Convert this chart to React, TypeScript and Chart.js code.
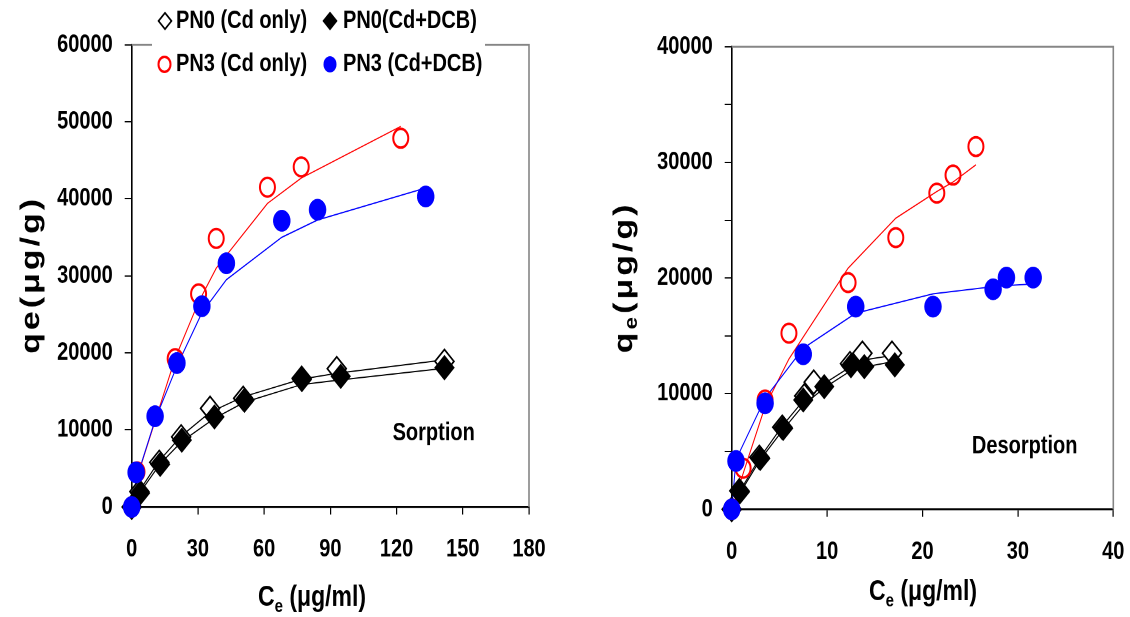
import React, { useEffect, useRef } from 'react';
import { Chart, registerables } from 'chart.js';

Chart.register(...registerables);

// ---------- shared layout ----------
const CANVAS_W = 565;
const CANVAS_H = 494; // logical height; stretched to 617 on screen
const SCREEN_H = 617;
const FONT = '"Liberation Sans", Arial, sans-serif';

// ---------- Sorption (left) ----------
const sorptionXTicks = [0, 30, 60, 90, 120, 150, 180];
const sorptionYTicks = [0, 10000, 20000, 30000, 40000, 50000, 60000];

const sorpPN0CdX = [0, 3.5, 12.5, 22.4, 35.5, 50.5, 77, 92.9, 141.7];
const sorpPN0CdY = [0, 2000, 5800, 9100, 12800, 14100, 16700, 17950, 18900];
const sorpPN0CdFit = [0, 2100, 6000, 9200, 12300, 14300, 16600, 17350, 19100];

const sorpPN0DcbX = [0, 3.8, 12.9, 22.7, 37.5, 51.1, 77.1, 94.7, 141.7];
const sorpPN0DcbY = [0, 1800, 5530, 8670, 11690, 13850, 16530, 16960, 18080];
const sorpPN0DcbFit = [0, 1900, 5600, 8500, 11500, 13600, 15900, 16500, 18000];

const sorpPN3CdX = [0, 2.4, 19.7, 30.3, 38.3, 61.5, 76.8, 121.9];
const sorpPN3CdY = [0, 4570, 19250, 27660, 34860, 41510, 44140, 47860];
const sorpPN3CdFit = [0, 3800, 19300, 26600, 31000, 39400, 42700, 49400];

const sorpPN3DcbX = [0, 2.0, 10.6, 20.5, 31.8, 42.9, 68.0, 84.2, 133.2];
const sorpPN3DcbY = [0, 4490, 11780, 18680, 26060, 31630, 37150, 38580, 40300];
const sorpPN3DcbFit = [0, 3500, 11300, 18300, 25200, 29500, 35000, 37250, 41400];

// ---------- Desorption (right) ----------
const desorptionXTicks = [0, 10, 20, 30, 40];
const desorptionYTicks = [0, 5000, 10000, 15000, 20000, 25000, 30000, 35000, 40000];
const desorptionYLabelled = [0, 10000, 20000, 30000, 40000];

const desPN0CdX = [0, 0.8, 2.9, 5.3, 7.6, 8.6, 12.4, 13.7, 16.8];
const desPN0CdY = [0, 1600, 4500, 7100, 9800, 11000, 12600, 13500, 13500];
const desPN0CdFit = [0, 1500, 4400, 7200, 9500, 10300, 12300, 12900, 13300];

const desPN0DcbX = [0, 0.87, 3.0, 5.4, 7.5, 9.7, 12.5, 13.9, 17.1];
const desPN0DcbY = [0, 1520, 4410, 7010, 9460, 10610, 12420, 12340, 12490];
const desPN0DcbFit = [0, 1400, 4300, 6900, 9000, 10500, 12000, 12300, 12800];

const desPN3CdX = [0, 1.2, 3.5, 6.0, 12.2, 17.2, 21.5, 23.2, 25.6];
const desPN3CdY = [0, 3550, 9460, 15230, 19610, 23500, 27340, 28900, 31370];
const desPN3CdFit = [0, 3100, 8900, 13000, 20850, 25180, 27480, 28300, 29790];

const desPN3DcbX = [0, 0.45, 3.5, 7.5, 13.0, 21.1, 27.4, 28.8, 31.6];
const desPN3DcbY = [0, 4180, 9170, 13410, 17530, 17530, 19030, 20040, 20040];
const desPN3DcbFit = [0, 4300, 9600, 13930, 16960, 18630, 19260, 19350, 19490];

const legendLabels = ['PN0 (Cd only)', 'PN0(Cd+DCB)', 'PN3 (Cd only)', 'PN3 (Cd+DCB)'];

// ---------- helpers ----------
const zip = (xs: number[], ys: number[]) => xs.map((x, i) => ({ x, y: ys[i] }));

function buildDatasets(
  pn0CdX: number[], pn0CdY: number[], pn0CdFit: number[],
  pn0DcbX: number[], pn0DcbY: number[], pn0DcbFit: number[],
  pn3CdX: number[], pn3CdY: number[], pn3CdFit: number[],
  pn3DcbX: number[], pn3DcbY: number[], pn3DcbFit: number[],
) {
  const base = { clip: false as any };
  return [
    { ...base, label: legendLabels[3], data: zip(pn3DcbX, pn3DcbY), showLine: false, pointStyle: 'circle', pointRadius: 8.5, pointBackgroundColor: '#0000FF', pointBorderColor: '#0000FF', pointBorderWidth: 0.5, order: 0 },
    { ...base, label: legendLabels[2], data: zip(pn3CdX, pn3CdY), showLine: false, pointStyle: 'circle', pointRadius: 7.5, pointBackgroundColor: 'rgba(0,0,0,0)', pointBorderColor: '#FF0000', pointBorderWidth: 2, order: 1 },
    { ...base, label: legendLabels[1], data: zip(pn0DcbX, pn0DcbY), showLine: false, pointStyle: 'rectRot', pointRadius: 9.5, pointBackgroundColor: '#000000', pointBorderColor: '#000000', pointBorderWidth: 1, order: 2 },
    { ...base, label: legendLabels[0], data: zip(pn0CdX, pn0CdY), showLine: false, pointStyle: 'rectRot', pointRadius: 9.5, pointBackgroundColor: '#FFFFFF', pointBorderColor: '#000000', pointBorderWidth: 1.5, order: 3 },
    { ...base, label: 'fit PN3 DCB', data: zip(pn3DcbX, pn3DcbFit), showLine: true, pointRadius: 0, borderColor: '#0000FF', borderWidth: 1, order: 4 },
    { ...base, label: 'fit PN3 Cd', data: zip(pn3CdX, pn3CdFit), showLine: true, pointRadius: 0, borderColor: '#FF0000', borderWidth: 1, order: 5 },
    { ...base, label: 'fit PN0 DCB', data: zip(pn0DcbX, pn0DcbFit), showLine: true, pointRadius: 0, borderColor: '#000000', borderWidth: 1, order: 6 },
    { ...base, label: 'fit PN0 Cd', data: zip(pn0CdX, pn0CdFit), showLine: true, pointRadius: 0, borderColor: '#000000', borderWidth: 1, order: 7 },
  ];
}

type Part = [string, number, number];
function drawParts(ctx: CanvasRenderingContext2D, parts: Part[], cx: number, cy: number, spacing = 0) {
  const widths = parts.map((p) => {
    ctx.font = `bold ${p[1]}px ${FONT}`;
    return ctx.measureText(p[0]).width + spacing * p[0].length;
  });
  const total = widths.reduce((a, b) => a + b, 0);
  let x = cx - total / 2;
  ctx.textAlign = 'left';
  parts.forEach((p, i) => {
    ctx.font = `bold ${p[1]}px ${FONT}`;
    if (spacing) {
      for (const ch of p[0]) {
        ctx.fillText(ch, x, cy + p[2]);
        x += ctx.measureText(ch).width + spacing;
      }
    } else {
      ctx.fillText(p[0], x, cy + p[2]);
      x += widths[i];
    }
  });
}

function diamond(ctx: CanvasRenderingContext2D, x: number, y: number, r: number, fill: string) {
  ctx.beginPath();
  ctx.moveTo(x, y - r);
  ctx.lineTo(x + r, y);
  ctx.lineTo(x, y + r);
  ctx.lineTo(x - r, y);
  ctx.closePath();
  ctx.fillStyle = fill;
  ctx.fill();
  ctx.lineWidth = 1.5;
  ctx.strokeStyle = '#000';
  ctx.stroke();
}

interface Deco {
  yTitle: Part[];
  yTitleX: number;
  yTitleY: number;
  yTitleSpacing: number;
  xTitle: Part[];
  xTitleX: number;
  xTitleY: number;
  note: string;
  noteX: number;
  noteY: number;
  legend: boolean;
}

function decoPlugin(d: Deco) {
  return {
    id: 'deco',
    beforeDatasetsDraw(chart: any) {
      const { ctx, chartArea: a } = chart;
      ctx.save();
      ctx.strokeStyle = '#858585';
      ctx.lineWidth = 1.6;
      ctx.beginPath();
      ctx.moveTo(a.left, a.top);
      ctx.lineTo(a.right, a.top);
      ctx.lineTo(a.right, a.bottom);
      ctx.stroke();
      ctx.restore();
    },
    afterDraw(chart: any) {
      const ctx: CanvasRenderingContext2D = chart.ctx;
      ctx.save();
      ctx.fillStyle = '#000';
      ctx.textBaseline = 'alphabetic';
      // x title
      drawParts(ctx, d.xTitle, d.xTitleX, d.xTitleY);
      // y title (rotated)
      ctx.save();
      ctx.translate(d.yTitleX, d.yTitleY);
      ctx.rotate(-Math.PI / 2);
      ctx.fillStyle = '#000';
      drawParts(ctx, d.yTitle, 0, 0, d.yTitleSpacing);
      ctx.restore();
      // note
      ctx.font = `bold 20px ${FONT}`;
      ctx.textAlign = 'center';
      ctx.textBaseline = 'middle';
      ctx.fillStyle = '#000';
      ctx.fillText(d.note, d.noteX, d.noteY);
      // legend
      if (d.legend) {
        ctx.fillStyle = '#FFFFFF';
        ctx.fillRect(152, 0, 333, 72);
        const r1 = 16.8;
        const r2 = 51.5;
        diamond(ctx, 165, r1, 6.5, '#FFFFFF');
        diamond(ctx, 330, r1, 6.5, '#000000');
        ctx.beginPath();
        ctx.arc(164.5, r2, 6, 0, Math.PI * 2);
        ctx.lineWidth = 2;
        ctx.strokeStyle = '#FF0000';
        ctx.stroke();
        ctx.beginPath();
        ctx.arc(330, r2, 6.5, 0, Math.PI * 2);
        ctx.fillStyle = '#0000FF';
        ctx.fill();
        ctx.fillStyle = '#000';
        ctx.font = `bold 20px ${FONT}`;
        ctx.textAlign = 'left';
        ctx.textBaseline = 'middle';
        ctx.fillText(legendLabels[0], 176, r1);
        ctx.fillText(legendLabels[1], 343, r1);
        ctx.fillText(legendLabels[2], 176, r2);
        ctx.fillText(legendLabels[3], 343, r2);
      }
      ctx.restore();
    },
  };
}

function makeScales(opts: {
  xMin: number; xMax: number; xTicks: number[];
  yMin: number; yMax: number; yTicks: number[]; yLabelled: number[];
  yWidth: number; xHeight: number;
}) {
  const tickFont = { family: FONT, size: 20, weight: 'bold' as any };
  return {
    x: {
      type: 'linear' as const,
      min: opts.xMin,
      max: opts.xMax,
      afterBuildTicks: (s: any) => { s.ticks = opts.xTicks.map((v) => ({ value: v })); },
      afterFit: (s: any) => { s.height = opts.xHeight; s.paddingLeft = 0; s.paddingRight = 0; },
      grid: { drawOnChartArea: false, drawTicks: true, tickLength: 6, color: '#000', lineWidth: 1.2 },
      border: { display: true, color: '#000', width: 1.6 },
      ticks: { font: tickFont, color: '#000', padding: 16, maxRotation: 0, autoSkip: false, callback: (v: any) => String(v) },
    },
    y: {
      type: 'linear' as const,
      min: opts.yMin,
      max: opts.yMax,
      afterBuildTicks: (s: any) => { s.ticks = opts.yTicks.map((v) => ({ value: v })); },
      afterFit: (s: any) => { s.width = opts.yWidth; s.paddingTop = 0; s.paddingBottom = 0; },
      grid: { drawOnChartArea: false, drawTicks: true, tickLength: 7, color: '#000', lineWidth: 1 },
      border: { display: true, color: '#000', width: 1.6 },
      ticks: {
        font: tickFont, color: '#000', padding: 12, autoSkip: false,
        callback: (v: any) => (opts.yLabelled.includes(Number(v)) ? String(v) : ''),
      },
    },
  };
}

function ChartPanel(props: { left: number; config: any }) {
  const ref = useRef<HTMLCanvasElement | null>(null);
  useEffect(() => {
    if (!ref.current) return;
    const chart = new Chart(ref.current, props.config);
    return () => chart.destroy();
  }, []);
  return (
    <canvas
      ref={ref}
      width={CANVAS_W}
      height={CANVAS_H}
      style={{ position: 'absolute', left: props.left, top: 0, width: `${CANVAS_W}px`, height: `${SCREEN_H}px` }}
    />
  );
}

const common = {
  animation: false as const,
  responsive: false,
  devicePixelRatio: 2,
  plugins: { legend: { display: false }, tooltip: { enabled: false } },
};

const sorptionConfig = {
  type: 'scatter',
  data: {
    datasets: buildDatasets(
      sorpPN0CdX, sorpPN0CdY, sorpPN0CdFit,
      sorpPN0DcbX, sorpPN0DcbY, sorpPN0DcbFit,
      sorpPN3CdX, sorpPN3CdY, sorpPN3CdFit,
      sorpPN3DcbX, sorpPN3DcbY, sorpPN3DcbFit,
    ),
  },
  options: {
    ...common,
    layout: { padding: { left: 0, right: 36, top: 35.8, bottom: 0 } },
    scales: makeScales({
      xMin: 0, xMax: 180, xTicks: sorptionXTicks,
      yMin: 0, yMax: 60000, yTicks: sorptionYTicks, yLabelled: sorptionYTicks,
      yWidth: 131.7, xHeight: CANVAS_H - 405.9,
    }),
  },
  plugins: [decoPlugin({
    yTitle: [['qe(\u03BCg/g)', 27, 0]],
    yTitleX: 39, yTitleY: 220, yTitleSpacing: 2.5,
    xTitle: [['C', 23, 0], ['e', 15, 5], [' (\u03BCg/ml)', 23, 0]],
    xTitleX: 312, xTitleY: 485,
    note: 'Sorption', noteX: 433.7, noteY: 346.9,
    legend: true,
  })],
};

const desorptionConfig = {
  type: 'scatter',
  data: {
    datasets: buildDatasets(
      desPN0CdX, desPN0CdY, desPN0CdFit,
      desPN0DcbX, desPN0DcbY, desPN0DcbFit,
      desPN3CdX, desPN3CdY, desPN3CdFit,
      desPN3DcbX, desPN3DcbY, desPN3DcbFit,
    ),
  },
  options: {
    ...common,
    layout: { padding: { left: 0, right: 16.7, top: 37.4, bottom: 0 } },
    scales: makeScales({
      xMin: 0, xMax: 40, xTicks: desorptionXTicks,
      yMin: 0, yMax: 40000, yTicks: desorptionYTicks, yLabelled: desorptionYLabelled,
      yWidth: 166.7, xHeight: CANVAS_H - 407.8,
    }),
  },
  plugins: [decoPlugin({
    yTitle: [['q', 27, 0], ['e', 18, 5], ['(\u03BCg/g)', 27, 0]],
    yTitleX: 67, yTitleY: 222, yTitleSpacing: 2.5,
    xTitle: [['C', 23, 0], ['e', 15, 5], [' (\u03BCg/ml)', 23, 0]],
    xTitleX: 358, xTitleY: 480.4,
    note: 'Desorption', noteX: 459.7, noteY: 357.6,
    legend: false,
  })],
};

export default function App() {
  return (
    <div style={{ position: 'fixed', left: 0, top: 0, width: 1130, height: 617, background: '#fff', overflow: 'hidden' }}>
      <ChartPanel left={0} config={sorptionConfig} />
      <ChartPanel left={565} config={desorptionConfig} />
    </div>
  );
}
